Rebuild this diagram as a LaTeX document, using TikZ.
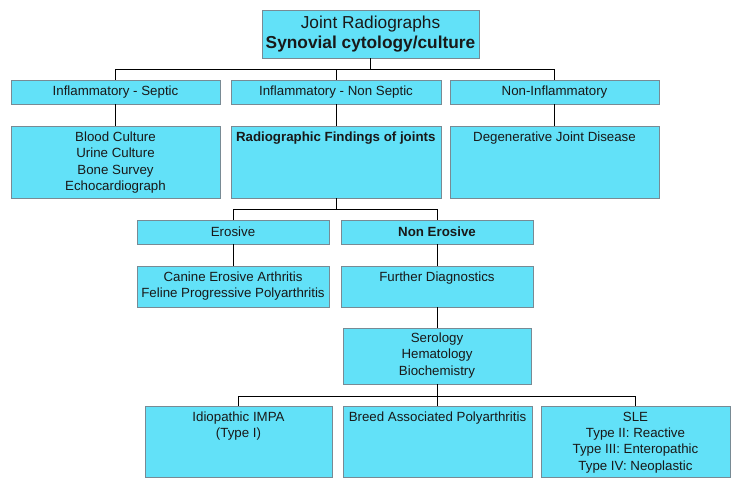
\documentclass[tikz,border=0pt]{standalone}
\usepackage{fontspec}
\setmainfont{Liberation Sans}
\definecolor{boxfill}{RGB}{98,225,248}
\definecolor{boxline}{RGB}{120,138,148}
\definecolor{txt}{RGB}{25,25,25}
% top-aligned box content: width, height, top pad, text
\newcommand{\tbx}[4]{\parbox[c][#2pt][t]{#1pt}{\centering\vspace*{#3pt}#4}}
% vertically centred box content
\newcommand{\cbx}[3]{\parbox[c][#2pt][c]{#1pt}{\centering #3}}
\begin{document}
\begin{tikzpicture}[x=1pt,y=-1pt,
  box/.style={draw=boxline, fill=boxfill, line width=0.9pt, inner sep=0pt, text=txt,
    font=\fontsize{13.3}{16.3}\selectfont},
  conn/.style={draw=black, line width=0.9pt}]
\useasboundingbox[fill=white] (0,0) rectangle (736,481);

% level 0
\node[box, font=\fontsize{17.3}{20}\selectfont] (top) at (370.5,34)
  {\cbx{217}{48}{Joint Radiographs\\\textbf{Synovial cytology/culture}}};

% level 1
\node[box] (sep)  at (115.5,92) {\cbx{209}{24}{Inflammatory - Septic}};
\node[box] (nsep) at (336,92)   {\cbx{210}{24}{Inflammatory - Non Septic}};
\node[box] (ninf) at (554.5,92) {\cbx{209}{24}{Non-Inflammatory}};

% level 2
\node[box] (blood) at (115.5,162) {\tbx{209}{72}{6}{Blood Culture\\Urine Culture\\Bone Survey\\Echocardiograph}};
\node[box] (radio) at (336,162)   {\parbox[c][72pt][t]{210pt}{\vspace*{6pt}\hspace*{5pt}\textbf{Radiographic Findings of joints}}};
\node[box] (djd)   at (554.5,162) {\tbx{209}{72}{6}{Degenerative Joint Disease}};

% level 3
\node[box] (ero)  at (233,232) {\cbx{192}{24}{Erosive}};
\node[box] (nero) at (437,232) {\cbx{192}{24}{\textbf{Non Erosive}}};

% level 4
\node[box] (canine)  at (233,286.5) {\tbx{192}{41}{6}{Canine Erosive Arthritis\\Feline Progressive Polyarthritis}};
\node[box] (further) at (437,286.5) {\tbx{192}{41}{6}{Further Diagnostics}};

% level 5
\node[box] (sero) at (437,356) {\tbx{188}{56}{5}{Serology\\Hematology\\Biochemistry}};

% level 6
\node[box] (idio)  at (238.5,441.5) {\tbx{187}{71}{6}{Idiopathic IMPA\\(Type I)}};
\node[box] (breed) at (437.5,441.5) {\tbx{189}{71}{6}{Breed Associated Polyarthritis}};
\node[box] (sle)   at (635.5,441.5) {\tbx{189}{71}{6}{SLE\\Type II: Reactive\\Type III: Enteropathic\\Type IV: Neoplastic}};

% connectors
\draw[conn] (top.south) -- ++(0,11) -| (sep.north);
\draw[conn] (top.south) -- ++(0,11) -| (nsep.north);
\draw[conn] (top.south) -- ++(0,11) -| (ninf.north);

\draw[conn] (sep.south)  -- (blood.north);
\draw[conn] (nsep.south) -- (radio.north);
\draw[conn] (ninf.south) -- (djd.north);

\draw[conn] (radio.south) -- ++(0,11) -| (ero.north);
\draw[conn] (radio.south) -- ++(0,11) -| (nero.north);

\draw[conn] (ero.south)  -- (canine.north);
\draw[conn] (nero.south) -- (further.north);
\draw[conn] (further.south) -- (sero.north);

\draw[conn] (sero.south) -- ++(0,12) -| (idio.north);
\draw[conn] (sero.south) -- ++(0,12) -| (breed.north);
\draw[conn] (sero.south) -- ++(0,12) -| (sle.north);
\end{tikzpicture}
\end{document}
